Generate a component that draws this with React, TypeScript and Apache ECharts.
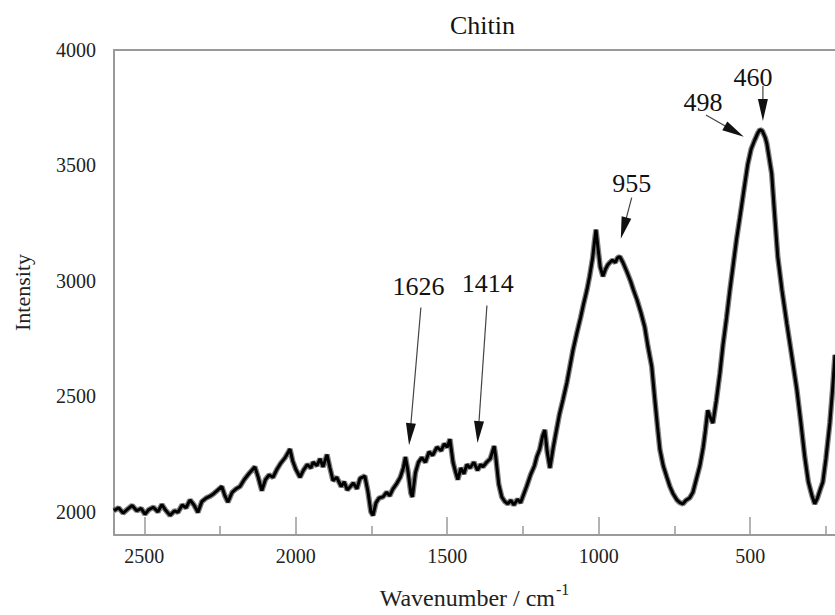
import { useEffect, useRef } from 'react';
import * as echarts from 'echarts';

const FONT = 'Liberation Serif';

const wavenumbers = [
  2600, 2585, 2570, 2555, 2540, 2525, 2510, 2498, 2485, 2470, 2455, 2442, 2430, 2415, 2400, 2389,
  2375, 2362, 2349, 2336, 2323, 2310, 2296, 2283, 2270, 2257, 2244, 2234, 2224, 2210, 2197, 2184,
  2170, 2155, 2142, 2135, 2124, 2112, 2100, 2088, 2075, 2062, 2050, 2035, 2025, 2019, 2010, 2000,
  1986, 1975, 1962, 1950, 1943, 1930, 1920, 1910, 1897, 1887, 1877, 1865, 1850, 1840, 1830, 1821,
  1810, 1798, 1788, 1772, 1762, 1752, 1745, 1735, 1725, 1712, 1700, 1690, 1679, 1668, 1655, 1645,
  1638, 1630, 1620, 1615, 1605, 1595, 1584, 1572, 1560, 1548, 1534, 1520, 1510, 1500, 1491, 1485,
  1481, 1472, 1465, 1455, 1445, 1435, 1425, 1412, 1400, 1390, 1382, 1370, 1358, 1345, 1340, 1330,
  1320, 1310, 1300, 1290, 1280, 1268, 1258, 1250, 1238, 1225, 1212, 1204, 1195, 1185, 1178, 1170,
  1161, 1150, 1140, 1130, 1118, 1105, 1095, 1085, 1072, 1060, 1050, 1039, 1030, 1020, 1014, 1009,
  1003, 995, 986, 978, 970, 963, 955, 945, 938, 930, 920, 907, 895, 885, 874, 860,
  848, 838, 825, 815, 806, 798, 787, 775, 765, 755, 742, 732, 722, 712, 700, 689,
  678, 666, 655, 648, 640, 632, 623, 612, 600, 590, 578, 567, 556, 545, 534, 520,
  508, 497, 485, 475, 468, 460, 450, 445, 437, 429, 420, 409, 395, 379, 362, 346,
  333, 320, 308, 296, 287, 278, 268, 260, 250, 237, 228, 220,
];

const intensity = [
  2005, 2018, 1995, 2012, 2028, 2005, 2015, 1990, 2010, 2020, 2000, 2032, 2008, 1985, 2005, 1998,
  2030, 2018, 2052, 2030, 1998, 2045, 2060, 2068, 2080, 2095, 2110, 2070, 2042, 2085, 2100, 2110,
  2140, 2165, 2185, 2195, 2150, 2092, 2140, 2160, 2150, 2185, 2210, 2235, 2258, 2272, 2220, 2185,
  2150, 2180, 2205, 2190, 2215, 2200, 2230, 2195, 2248, 2190, 2135, 2150, 2110, 2130, 2095, 2108,
  2125, 2100, 2145, 2155, 2090, 2000, 1985, 2040, 2060, 2065, 2085, 2070, 2100, 2120, 2150, 2190,
  2238, 2180, 2080, 2065, 2170, 2215, 2235, 2215, 2260, 2245, 2280, 2265, 2295, 2280, 2315, 2255,
  2215, 2170, 2140, 2190, 2165, 2205, 2190, 2215, 2180, 2205, 2195, 2215, 2230, 2285, 2240, 2120,
  2065, 2045, 2035, 2050, 2030, 2055, 2040, 2068, 2110, 2160, 2200, 2240, 2270, 2330, 2355, 2260,
  2190, 2280, 2350, 2420, 2485, 2560, 2630, 2700, 2775, 2840, 2900, 2960, 3020, 3100, 3170, 3222,
  3150, 3060, 3020, 3050, 3070, 3080, 3090, 3080, 3100, 3105, 3080, 3040, 3000, 2960, 2920, 2860,
  2800, 2720, 2630, 2490, 2370, 2270, 2200, 2150, 2110, 2080, 2052, 2040, 2035, 2050, 2060, 2085,
  2140, 2200, 2280, 2350, 2440, 2410, 2385, 2480, 2600, 2720, 2840, 2960, 3070, 3180, 3275, 3400,
  3505, 3570, 3610, 3640, 3655, 3650, 3620, 3595, 3530, 3465, 3300, 3105, 2960, 2815, 2670, 2530,
  2390, 2240, 2130, 2070, 2035, 2060, 2100, 2130, 2230, 2385, 2530, 2680,
];

const xMajorTicks = [2500, 2000, 1500, 1000, 500];
const xMinorTicks = [2250, 1750, 1250, 750, 250];
const yTicks = [2000, 2500, 3000, 3500, 4000];

const peakLabels = ['1626', '1414', '955', '498', '460'];
const arrowTailX = [1587, 1369, 891, 646, 458];
const arrowTailY = [2885, 2894, 3361, 3719, 3844];
const arrowTipX = [1626, 1400, 927, 521, 458];
const arrowTipY = [2289, 2298, 3183, 3624, 3693];
const labelX = [1595, 1366, 891, 656, 491];
const labelY = [2975, 2989, 3421, 3771, 3879];

export default function App() {
  const ref = useRef<HTMLDivElement>(null);

  useEffect(() => {
    if (!ref.current) return;
    const chart = echarts.init(ref.current, null, { renderer: 'svg' });
    const spectrum = wavenumbers.map((w, i) => [w, intensity[i]]);
    const arrows = peakLabels.map((_, i) => [arrowTailX[i], arrowTailY[i], arrowTipX[i], arrowTipY[i]]);
    const labelPoints = peakLabels.map((name, i) => ({ name, value: [labelX[i], labelY[i]] }));
    const gridRect = { left: 114, top: 50, right: 0, bottom: 80 };
    const axisGrey = '#9a9a9a';
    const plain = (v: number) => String(v);

    chart.setOption({
      animation: false,
      backgroundColor: '#ffffff',
      textStyle: { fontFamily: FONT },
      title: {
        text: 'Chitin',
        left: 445,
        top: 7,
        textStyle: { fontFamily: FONT, fontSize: 26, fontWeight: 'normal', color: '#111' },
      },
      grid: [
        { ...gridRect, containLabel: false },
        { ...gridRect, containLabel: false },
      ],
      xAxis: [
        {
          type: 'value',
          gridIndex: 0,
          position: 'bottom',
          inverse: true,
          min: 220,
          max: 2600,
          axisLine: { show: true, lineStyle: { color: axisGrey, width: 2 } },
          axisTick: {
            show: true,
            inside: true,
            length: 18,
            customValues: xMajorTicks,
            lineStyle: { color: axisGrey, width: 1.5 },
          },
          axisLabel: {
            customValues: xMajorTicks,
            formatter: plain,
            fontFamily: FONT,
            fontSize: 20,
            color: '#222',
            margin: 11,
          },
          splitLine: { show: false },
          name: '{a|Wavenumber / cm}{b|-1}',
          nameLocation: 'middle',
          nameGap: 46,
          nameTextStyle: {
            fontFamily: FONT,
            rich: {
              a: { fontFamily: FONT, fontSize: 24, color: '#222' },
              b: { fontFamily: FONT, fontSize: 16, color: '#222', padding: [0, 0, 17, 1] },
            },
          },
        },
        {
          type: 'value',
          gridIndex: 0,
          position: 'top',
          inverse: true,
          min: 220,
          max: 2600,
          axisLine: { show: true, lineStyle: { color: axisGrey, width: 2 } },
          axisTick: { show: false },
          axisLabel: { show: false },
          splitLine: { show: false },
        },
        {
          type: 'value',
          gridIndex: 1,
          position: 'bottom',
          inverse: true,
          min: 220,
          max: 2600,
          axisLine: { show: false },
          axisTick: {
            show: true,
            inside: true,
            length: 9,
            customValues: xMinorTicks,
            lineStyle: { color: axisGrey, width: 1.5 },
          },
          axisLabel: { show: false },
          splitLine: { show: false },
        },
      ],
      yAxis: [
        {
          type: 'value',
          gridIndex: 0,
          min: 1900,
          max: 4000,
          axisLine: { show: true, lineStyle: { color: axisGrey, width: 2 } },
          axisTick: { show: false },
          axisLabel: {
            customValues: yTicks,
            formatter: plain,
            fontFamily: FONT,
            fontSize: 20,
            color: '#222',
            margin: 18,
          },
          splitLine: { show: false },
          name: 'Intensity',
          nameLocation: 'middle',
          nameGap: 81,
          nameTextStyle: { fontFamily: FONT, fontSize: 22, color: '#222' },
        },
        {
          type: 'value',
          gridIndex: 1,
          min: 1900,
          max: 4000,
          show: false,
        },
      ],
      series: [
        {
          type: 'line',
          xAxisIndex: 0,
          yAxisIndex: 0,
          data: spectrum,
          showSymbol: false,
          symbol: 'none',
          silent: true,
          clip: true,
          lineStyle: { color: 'rgba(0,0,0,0.5)', width: 5.5 },
          z: 2,
        },
        {
          type: 'line',
          xAxisIndex: 0,
          yAxisIndex: 0,
          data: spectrum,
          showSymbol: false,
          symbol: 'none',
          silent: true,
          clip: true,
          lineStyle: { color: '#000', width: 3 },
          z: 3,
        },
        {
          type: 'custom',
          coordinateSystem: 'cartesian2d',
          xAxisIndex: 0,
          yAxisIndex: 0,
          silent: true,
          z: 10,
          data: arrows,
          encode: { x: [0, 2], y: [1, 3] },
          renderItem: (_params: any, api: any) => {
            const tail = api.coord([api.value(0), api.value(1)]);
            const tip = api.coord([api.value(2), api.value(3)]);
            const dx = tip[0] - tail[0];
            const dy = tip[1] - tail[1];
            const len = Math.hypot(dx, dy) || 1;
            const ux = dx / len;
            const uy = dy / len;
            const headLen = 22;
            const headW = 5;
            const bx = tip[0] - ux * headLen;
            const by = tip[1] - uy * headLen;
            const px = -uy;
            const py = ux;
            return {
              type: 'group',
              children: [
                {
                  type: 'line',
                  shape: { x1: tail[0], y1: tail[1], x2: bx + ux * 2, y2: by + uy * 2 },
                  style: { stroke: '#444', lineWidth: 1.2 },
                },
                {
                  type: 'polygon',
                  shape: {
                    points: [
                      [tip[0], tip[1]],
                      [bx + px * headW, by + py * headW],
                      [bx - px * headW, by - py * headW],
                    ],
                  },
                  style: { fill: '#111' },
                },
              ],
            };
          },
        },
        {
          type: 'scatter',
          xAxisIndex: 0,
          yAxisIndex: 0,
          silent: true,
          z: 11,
          symbolSize: 0,
          itemStyle: { color: '#111', opacity: 1 },
          data: labelPoints,
          label: {
            show: true,
            position: 'inside',
            formatter: '{b}',
            fontFamily: FONT,
            fontSize: 26,
            color: '#111',
            textBorderWidth: 0,
            textBorderColor: 'transparent',
            opacity: 1,
          },
        },
      ],
    });

    return () => {
      chart.dispose();
    };
  }, []);

  return (
    <div
      ref={ref}
      style={{ position: 'absolute', left: 0, top: 0, width: 835, height: 615, background: '#fff' }}
    />
  );
}
